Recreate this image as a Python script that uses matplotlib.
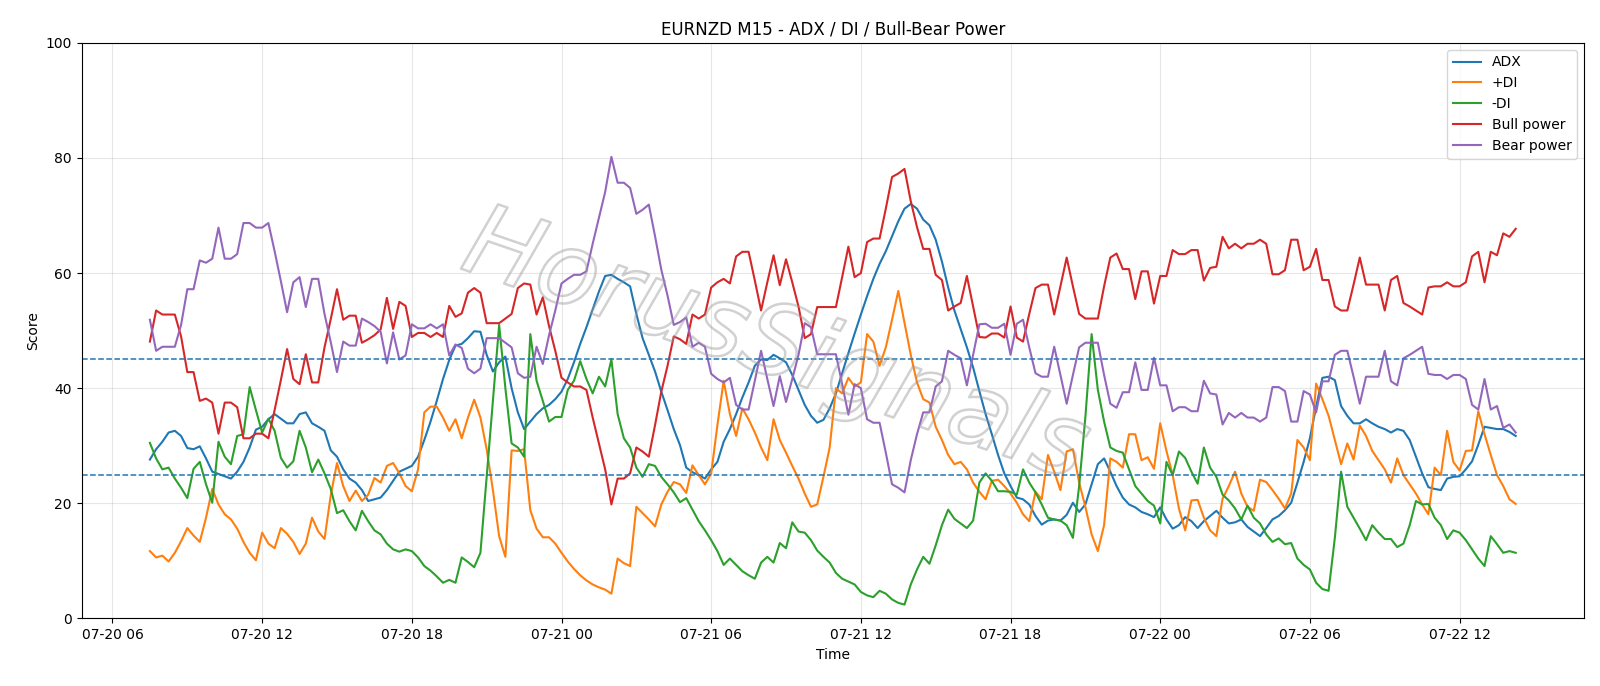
import matplotlib
matplotlib.use("Agg")
import matplotlib.pyplot as plt
import matplotlib.dates as mdates
import matplotlib.patheffects as pe
import pandas as pd

# EURNZD M15, 220 bars
start_time = "2020-07-20 07:30"
n_bars = 220

adx = [
    27.6, 29.4, 30.7, 32.3, 32.6, 31.7, 29.6, 29.4, 29.9, 27.8,
    25.5, 25.1, 24.7, 24.3, 25.5, 27.2, 29.7, 32.8, 33.3, 34.6,
    35.5, 34.7, 33.9, 33.9, 35.5, 35.8, 33.9, 33.3, 32.6, 29.2,
    28.1, 25.9, 24.3, 23.6, 22.3, 20.4, 20.7, 21.0, 22.3, 23.9,
    25.5, 26.0, 26.5, 28.1, 31.0, 34.2, 37.8, 41.6, 44.9, 47.4,
    47.7, 48.7, 49.9, 49.8, 45.8, 42.9, 44.5, 45.5, 40.0, 35.8,
    32.9, 34.2, 35.5, 36.5, 37.1, 38.1, 39.4, 41.6, 44.5, 47.7,
    50.6, 53.7, 56.8, 59.5, 59.7, 59.0, 58.4, 57.7, 52.9, 48.7,
    45.8, 42.9, 39.4, 36.2, 32.9, 30.1, 26.2, 25.4, 24.9, 24.3,
    25.9, 27.2, 30.7, 32.9, 35.5, 38.4, 41.0, 43.9, 45.0, 44.9,
    45.8, 45.2, 44.5, 42.3, 39.7, 37.1, 35.2, 34.0, 34.5, 36.5,
    39.1, 42.6, 46.1, 49.5, 52.8, 56.0, 59.0, 61.6, 63.8, 66.4,
    69.0, 71.2, 72.0, 71.2, 69.3, 68.3, 65.8, 62.0, 57.5, 53.5,
    50.3, 47.1, 43.6, 39.5, 35.5, 32.0, 28.4, 25.2, 23.0, 21.0,
    20.7, 19.8, 17.8, 16.3, 17.0, 17.2, 17.0, 18.0, 20.1, 18.5,
    19.8, 23.3, 26.8, 27.8, 25.5, 23.0, 21.0, 19.8, 19.3, 18.5,
    18.1, 17.6, 19.3, 17.2, 15.6, 16.2, 17.6, 16.9, 15.7, 16.9,
    17.8, 18.7, 17.5, 16.5, 16.7, 17.2, 15.9, 15.1, 14.3, 15.7,
    17.2, 17.8, 18.8, 20.1, 23.6, 27.2, 31.3, 36.8, 41.8, 42.0,
    41.4, 36.9, 35.2, 33.9, 33.9, 34.6, 33.9, 33.3, 32.9, 32.3,
    32.9, 32.6, 31.0, 28.1, 25.2, 22.8, 22.5, 22.3, 24.3, 24.6,
    24.7, 25.9, 27.3, 30.2, 33.3, 33.1, 32.9, 32.9, 32.4, 31.7,
]

plus_di = [
    11.7, 10.6, 10.9, 9.9, 11.4, 13.4, 15.7, 14.4, 13.3, 17.5,
    22.5, 19.8, 18.1, 17.2, 15.6, 13.3, 11.4, 10.1, 14.9, 13.0,
    12.2, 15.7, 14.7, 13.3, 11.2, 13.0, 17.5, 15.1, 13.8, 21.4,
    27.0, 23.0, 20.4, 22.2, 20.4, 21.5, 24.4, 23.6, 26.5, 27.0,
    25.2, 23.0, 22.1, 25.9, 35.8, 36.8, 36.8, 34.9, 32.6, 34.6,
    31.3, 34.9, 38.0, 34.9, 29.4, 22.3, 14.3, 10.7, 29.2, 29.1,
    29.4, 18.8, 15.6, 14.1, 14.1, 13.0, 11.4, 9.9, 8.6, 7.5,
    6.6, 5.9, 5.4, 5.0, 4.3, 10.4, 9.6, 9.1, 19.4, 18.3,
    17.2, 16.0, 19.8, 22.0, 23.7, 23.3, 21.8, 26.6, 24.9, 23.3,
    25.2, 33.6, 41.3, 35.5, 31.7, 36.5, 34.6, 32.3, 29.7, 27.5,
    34.6, 31.0, 28.8, 26.5, 24.3, 21.7, 19.4, 19.8, 24.6, 29.7,
    40.0, 39.1, 41.8, 40.3, 41.0, 49.4, 48.1, 43.9, 47.1, 51.9,
    56.9, 51.3, 45.8, 41.0, 38.1, 37.5, 33.3, 31.0, 28.4, 26.8,
    27.2, 25.9, 23.6, 22.0, 20.7, 23.9, 24.1, 23.0, 21.7, 20.1,
    18.1, 16.9, 22.0, 20.7, 28.4, 25.5, 22.3, 29.0, 29.4, 23.6,
    19.4, 14.6, 11.7, 16.2, 27.8, 27.2, 26.2, 32.0, 32.0, 27.5,
    28.0, 26.0, 33.9, 29.1, 24.9, 19.1, 15.3, 20.5, 20.6, 17.5,
    15.3, 14.3, 20.8, 23.0, 25.5, 21.7, 19.4, 18.7, 24.1, 23.7,
    22.3, 20.8, 19.1, 21.7, 31.0, 29.7, 27.5, 40.8, 38.1, 35.2,
    31.0, 26.8, 30.4, 27.6, 33.5, 31.7, 29.1, 27.5, 25.9, 23.6,
    27.8, 24.9, 23.3, 21.7, 19.8, 18.1, 26.2, 24.9, 32.6, 27.2,
    25.7, 29.1, 29.2, 36.0, 32.0, 28.4, 24.9, 23.0, 20.7, 19.9,
]

minus_di = [
    30.5, 27.8, 25.9, 26.2, 24.3, 22.7, 20.9, 26.0, 27.2, 23.3,
    20.1, 30.7, 28.1, 26.8, 31.7, 32.0, 40.2, 36.2, 32.3, 34.7,
    32.6, 27.9, 26.2, 27.3, 32.6, 29.7, 25.4, 27.6, 25.2, 22.5,
    18.3, 18.8, 16.9, 15.3, 18.7, 16.9, 15.3, 14.6, 13.0, 12.0,
    11.6, 12.0, 11.7, 10.6, 9.1, 8.3, 7.3, 6.2, 6.7, 6.2,
    10.6, 9.8, 8.9, 11.4, 24.6, 37.8, 51.0, 40.0, 30.4, 29.7,
    28.1, 49.4, 41.3, 37.8, 34.2, 35.0, 35.0, 39.7, 41.3, 44.7,
    41.6, 39.1, 42.0, 40.3, 45.0, 35.5, 31.3, 29.7, 26.2, 24.6,
    26.8, 26.5, 24.6, 23.3, 21.9, 20.2, 20.9, 18.9, 16.9, 15.3,
    13.6, 11.7, 9.3, 10.4, 9.3, 8.2, 7.5, 6.9, 9.7, 10.7,
    9.7, 13.1, 12.2, 16.7, 15.1, 14.9, 13.6, 11.8, 10.7, 9.7,
    7.9, 6.9, 6.4, 5.9, 4.6, 4.0, 3.7, 4.8, 4.3, 3.3,
    2.7, 2.4, 5.9, 8.5, 10.7, 9.5, 12.7, 16.2, 18.9, 17.3,
    16.5, 15.7, 17.0, 23.6, 25.2, 23.9, 22.1, 22.1, 22.0, 21.5,
    25.9, 23.6, 21.9, 19.8, 17.5, 17.2, 17.0, 16.2, 14.0, 23.0,
    35.0, 49.4, 39.7, 34.2, 29.7, 29.1, 28.8, 25.9, 23.0, 21.7,
    20.4, 19.6, 16.5, 27.2, 24.9, 29.0, 27.9, 25.5, 23.4, 29.7,
    26.2, 24.6, 21.5, 20.5, 19.1, 17.2, 19.6, 17.5, 16.5, 14.6,
    13.3, 13.9, 12.9, 13.1, 10.4, 9.3, 8.5, 6.2, 5.1, 4.8,
    14.0, 25.5, 19.4, 17.5, 15.6, 13.6, 16.2, 14.9, 13.8, 13.8,
    12.4, 13.0, 16.2, 20.4, 19.8, 19.9, 17.5, 16.2, 13.8, 15.3,
    14.9, 13.6, 12.0, 10.4, 9.1, 14.3, 12.9, 11.4, 11.7, 11.4,
]

bull_power = [
    48.1, 53.5, 52.8, 52.8, 52.8, 49.0, 42.8, 42.8, 37.8, 38.2,
    37.5, 32.1, 37.5, 37.5, 36.7, 31.3, 31.3, 32.1, 32.1, 31.3,
    36.2, 41.4, 46.8, 41.6, 40.7, 45.9, 41.0, 41.0, 47.1, 52.0,
    57.2, 51.9, 52.6, 52.6, 47.9, 48.5, 49.2, 50.2, 55.7, 50.3,
    55.0, 54.3, 48.9, 49.6, 49.6, 48.9, 49.6, 48.9, 54.3, 52.4,
    53.0, 56.6, 57.4, 56.6, 51.3, 51.3, 51.3, 52.1, 52.9, 57.4,
    58.2, 58.0, 52.8, 55.8, 50.8, 46.5, 41.8, 41.0, 40.3, 40.3,
    39.7, 34.9, 30.4, 25.9, 19.8, 24.3, 24.3, 25.2, 29.7, 29.0,
    28.1, 33.6, 39.4, 43.9, 49.0, 48.5, 47.7, 52.8, 52.1, 52.8,
    57.5, 58.4, 59.0, 58.2, 62.9, 63.7, 63.7, 58.7, 53.5, 58.4,
    63.1, 57.9, 62.4, 58.4, 54.2, 48.7, 49.4, 54.1, 54.1, 54.1,
    54.1, 59.3, 64.6, 59.3, 60.0, 65.4, 66.0, 66.0, 71.2, 76.7,
    77.3, 78.1, 72.5, 68.0, 64.2, 64.2, 59.7, 58.8, 53.5, 54.2,
    54.8, 59.5, 54.2, 48.9, 48.8, 49.5, 49.5, 48.8, 54.2, 48.8,
    48.1, 52.9, 57.4, 58.0, 58.0, 52.8, 57.7, 62.7, 57.7, 52.9,
    52.1, 52.1, 52.1, 57.7, 62.7, 63.4, 60.7, 60.7, 55.5, 60.3,
    60.3, 54.7, 59.5, 59.5, 64.0, 63.3, 63.3, 64.0, 64.0, 58.7,
    60.9, 61.1, 66.3, 64.3, 65.1, 64.3, 65.1, 65.1, 65.8, 65.1,
    59.8, 59.8, 60.5, 65.8, 65.8, 60.5, 61.1, 64.2, 58.8, 58.8,
    54.2, 53.5, 53.5, 58.0, 62.7, 58.0, 58.0, 58.0, 53.5, 58.8,
    59.5, 54.8, 54.2, 53.5, 52.8, 57.5, 57.7, 57.7, 58.4, 57.7,
    57.7, 58.4, 62.9, 63.7, 58.4, 63.7, 63.1, 66.9, 66.3, 67.7,
]

bear_power = [
    51.9, 46.5, 47.2, 47.2, 47.2, 51.0, 57.2, 57.2, 62.2, 61.8,
    62.5, 67.9, 62.5, 62.5, 63.3, 68.7, 68.7, 67.9, 67.9, 68.7,
    63.8, 58.6, 53.2, 58.4, 59.3, 54.1, 59.0, 59.0, 52.9, 48.0,
    42.8, 48.1, 47.4, 47.4, 52.1, 51.5, 50.8, 49.8, 44.3, 49.7,
    45.0, 45.7, 51.1, 50.4, 50.4, 51.1, 50.4, 51.1, 45.7, 47.6,
    47.0, 43.4, 42.6, 43.4, 48.7, 48.7, 48.7, 47.9, 47.1, 42.6,
    41.8, 42.0, 47.2, 44.2, 49.2, 53.5, 58.2, 59.0, 59.7, 59.7,
    60.3, 65.1, 69.6, 74.1, 80.2, 75.7, 75.7, 74.8, 70.3, 71.0,
    71.9, 66.4, 60.6, 56.1, 51.0, 51.5, 52.3, 47.2, 47.9, 47.2,
    42.5, 41.6, 41.0, 41.8, 37.1, 36.3, 36.3, 41.3, 46.5, 41.6,
    36.9, 42.1, 37.6, 41.6, 45.8, 51.3, 50.6, 45.9, 45.9, 45.9,
    45.9, 40.7, 35.4, 40.7, 40.0, 34.6, 34.0, 34.0, 28.8, 23.3,
    22.7, 21.9, 27.5, 32.0, 35.8, 35.8, 40.3, 41.2, 46.5, 45.8,
    45.2, 40.5, 45.8, 51.1, 51.2, 50.5, 50.5, 51.2, 45.8, 51.2,
    51.9, 47.1, 42.6, 42.0, 42.0, 47.2, 42.3, 37.3, 42.3, 47.1,
    47.9, 47.9, 47.9, 42.3, 37.3, 36.6, 39.3, 39.3, 44.5, 39.7,
    39.7, 45.3, 40.5, 40.5, 36.0, 36.7, 36.7, 36.0, 36.0, 41.3,
    39.1, 38.9, 33.7, 35.7, 34.9, 35.7, 34.9, 34.9, 34.2, 34.9,
    40.2, 40.2, 39.5, 34.2, 34.2, 39.5, 38.9, 35.8, 41.2, 41.2,
    45.8, 46.5, 46.5, 42.0, 37.3, 42.0, 42.0, 42.0, 46.5, 41.2,
    40.5, 45.2, 45.8, 46.5, 47.2, 42.5, 42.3, 42.3, 41.6, 42.3,
    42.3, 41.6, 37.1, 36.3, 41.6, 36.3, 36.9, 33.1, 33.7, 32.3,
]

levels = [25, 45]

times = pd.date_range(start_time, periods=n_bars, freq="15min")

fig, ax = plt.subplots(figsize=(16, 6.86), dpi=100)
fig.subplots_adjust(left=0.051, right=0.99, top=0.9375, bottom=0.0985)

ax.plot(times, adx, label="ADX")
ax.plot(times, plus_di, label="+DI")
ax.plot(times, minus_di, label="-DI")
ax.plot(times, bull_power, label="Bull power")
ax.plot(times, bear_power, label="Bear power")

for lv in levels:
    ax.axhline(lv, linestyle="--", linewidth=1.1, color="#1f77b4")

ax.set_ylim(0, 100)
ax.set_title("EURNZD M15 - ADX / DI / Bull-Bear Power")
ax.set_xlabel("Time")
ax.set_ylabel("Score")
ax.grid(True, alpha=0.3)
ax.xaxis.set_major_locator(mdates.HourLocator(byhour=[0, 6, 12, 18]))
ax.xaxis.set_major_formatter(mdates.DateFormatter("%m-%d %H"))
ax.legend(loc="upper right")

# watermark (outlined text)
ax.text(0.462, 0.47, "HorusSignals", transform=ax.transAxes,
        fontsize=72, style="italic", rotation=-19,
        ha="center", va="center", color=(1, 1, 1, 0), zorder=6,
        path_effects=[pe.withStroke(linewidth=1.8, foreground=(0.6, 0.6, 0.6, 0.45))])

fig.savefig("out.png", dpi=100)
